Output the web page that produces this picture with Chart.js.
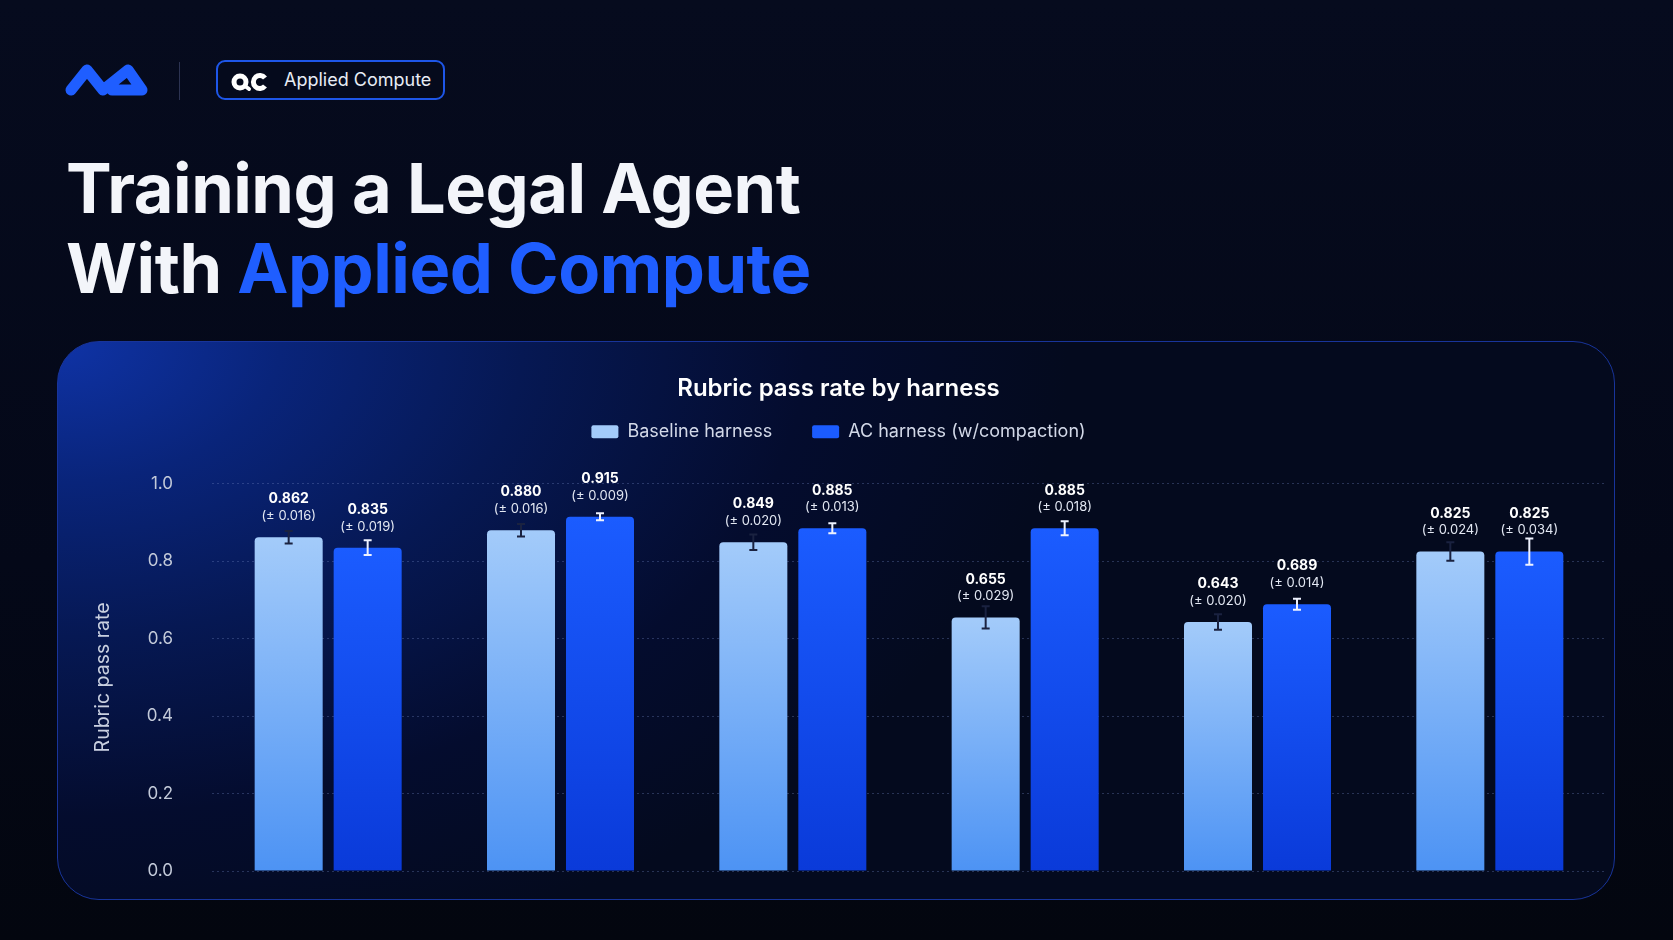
<!DOCTYPE html>
<html>
<head>
<meta charset="utf-8">
<title>Rubric pass rate by harness</title>
<script src="https://cdn.jsdelivr.net/npm/chart.js@4.4.1/dist/chart.umd.min.js"></script>
<style>
  html, body { margin: 0; padding: 0; }
  body {
    width: 1673px; height: 940px; overflow: hidden; position: relative;
    background: linear-gradient(180deg, #060b1e 0%, #040818 60%, #03060f 100%);
    font-family: Inter, "Noto Sans", sans-serif;
  }
  .logo { position: absolute; left: 0; top: 0; }
  .divider { position: absolute; left: 179px; top: 62px; width: 1px; height: 38px; background: #2c3352; }
  .pill {
    position: absolute; left: 216px; top: 60px; width: 229px; height: 40px; box-sizing: border-box;
    border: 2px solid #1e56e8; border-radius: 9px; background: #050a1c;
  }
  .pill svg { position: absolute; left: 13px; top: 10px; }
  .pill span {
    position: absolute; left: 66px; top: 8px; font-size: 18px; line-height: 20px; color: #e8ecf5;
  }
  .headline {
    position: absolute; left: 66px; top: 149px; margin: 0;
    font-size: 68.5px; line-height: 80px; font-weight: 700; color: #f3f5fa; letter-spacing: -0.5px;
  }
  .headline .blue { color: #1f5eff; }
  .card {
    position: absolute; left: 57px; top: 341px; width: 1558px; height: 559px; box-sizing: border-box;
    border: 1.5px solid #18349a; border-radius: 42px; overflow: hidden;
    background:
      radial-gradient(ellipse 65% 115% at 0% 0%, #0f33a6 0%, #09247a 22%, #061853 46%, #040c2e 74%, rgba(4,10,30,0) 100%),
      #040a1e;
  }
  .chart-box { position: absolute; left: -1.5px; top: -1.5px; width: 1558px; height: 559px; }
</style>
</head>
<body>
<svg class="logo" width="160" height="110">
  <path d="M71 90 L87 70 L103 90 L128 70 L142 90 L112 90" fill="none" stroke="#1f5eff"
        stroke-width="11" stroke-linecap="round" stroke-linejoin="round"/>
</svg>
<div class="divider"></div>
<div class="pill">
  <svg width="40" height="20">
    <circle cx="9" cy="10" r="6" fill="none" stroke="#ffffff" stroke-width="5"/>
    <path d="M14 14 L18 17" stroke="#ffffff" stroke-width="4" stroke-linecap="round"/>
    <path d="M34 6 A6.5 6.5 0 1 0 34 14" fill="none" stroke="#ffffff" stroke-width="5"/>
  </svg>
  <span>Applied Compute</span>
</div>
<h1 class="headline">Training a Legal Agent<br>With <span class="blue">Applied Compute</span></h1>
<div class="card">
  <div class="chart-box"><canvas id="chart"></canvas></div>
</div>
<script>
// data
const categories = ['1', '2', '3', '4', '5', '6'];
const seriesNames = ['Baseline harness', 'AC harness (w/compaction)'];
const baselineValues = [0.862, 0.880, 0.849, 0.655, 0.643, 0.825];
const baselineErrors = [0.016, 0.016, 0.020, 0.029, 0.020, 0.024];
const acValues = [0.835, 0.915, 0.885, 0.885, 0.689, 0.825];
const acErrors = [0.019, 0.009, 0.013, 0.018, 0.014, 0.034];
const yTickValues = [0, 0.2, 0.4, 0.6, 0.8, 1.0];

Chart.defaults.font.family = 'Inter, "Noto Sans", sans-serif';

// vertical gradient per bar, solid colour for the legend box
function barGradient(top, bottom, legendColor) {
  return function (ctx) {
    const chart = ctx.chart;
    if (ctx.type !== 'data' || !chart.chartArea) return legendColor;
    const y = chart.scales.y;
    const yTop = y.getPixelForValue(ctx.raw);
    const yBot = y.getPixelForValue(0);
    const g = chart.ctx.createLinearGradient(0, yTop, 0, yBot);
    g.addColorStop(0, top);
    g.addColorStop(1, bottom);
    return g;
  };
}

// error bars + value labels above each bar
const errorBarsAndLabels = {
  id: 'errorBarsAndLabels',
  afterDatasetsDraw(chart) {
    const c = chart.ctx;
    const y = chart.scales.y;
    chart.data.datasets.forEach((ds, di) => {
      chart.getDatasetMeta(di).data.forEach((bar, i) => {
        const v = ds.data[i];
        const e = ds.errors[i];
        const hi = y.getPixelForValue(v + e);
        const lo = y.getPixelForValue(v - e);
        c.save();
        c.strokeStyle = ds.errorColor;
        c.lineWidth = 2;
        c.beginPath();
        c.moveTo(bar.x, hi); c.lineTo(bar.x, lo);
        c.moveTo(bar.x - 4, hi); c.lineTo(bar.x + 4, hi);
        c.moveTo(bar.x - 4, lo); c.lineTo(bar.x + 4, lo);
        c.stroke();
        c.textAlign = 'center';
        c.textBaseline = 'middle';
        c.fillStyle = '#ffffff';
        c.font = '700 14px Inter';
        c.fillText(v.toFixed(3), bar.x, bar.y - 38);
        c.fillStyle = '#e3e8f3';
        c.font = '400 13px Inter';
        c.fillText('(\u00b1 ' + e.toFixed(3) + ')', bar.x, bar.y - 21);
        c.restore();
      });
    });
  }
};

// more room under the legend
const legendSpacing = {
  id: 'legendSpacing',
  beforeInit(chart) {
    const fit = chart.legend.fit;
    chart.legend.fit = function () {
      fit.call(this);
      this.height += 33;
    };
  }
};

new Chart(document.getElementById('chart'), {
  type: 'bar',
  data: {
    labels: categories,
    datasets: [
      {
        label: seriesNames[0],
        data: baselineValues,
        errors: baselineErrors,
        errorColor: '#1a2240',
        backgroundColor: barGradient('#a3cbfa', '#4d93f4', '#8fbff8'),
        borderWidth: 0,
        borderRadius: { topLeft: 4, topRight: 4 },
        borderSkipped: false,
        categoryPercentage: 0.68,
        barPercentage: 0.861
      },
      {
        label: seriesNames[1],
        data: acValues,
        errors: acErrors,
        errorColor: '#eef2ff',
        backgroundColor: barGradient('#1b5cff', '#0a3ad9', '#1a55f2'),
        borderWidth: 0,
        borderRadius: { topLeft: 4, topRight: 4 },
        borderSkipped: false,
        categoryPercentage: 0.68,
        barPercentage: 0.861
      }
    ]
  },
  options: {
    responsive: true,
    maintainAspectRatio: false,
    animation: false,
    layout: { padding: { left: 14, right: 9, top: 0, bottom: 29 } },
    plugins: {
      title: {
        display: true,
        text: 'Rubric pass rate by harness',
        color: '#ffffff',
        font: { size: 24, weight: '600' },
        padding: { top: 33, bottom: -20 }
      },
      legend: {
        display: true,
        labels: {
          color: '#d3d9e8',
          font: { size: 18 },
          boxWidth: 27,
          boxHeight: 13,
          padding: 40,
          useBorderRadius: true,
          borderRadius: 2
        }
      },
      tooltip: { enabled: false }
    },
    scales: {
      x: {
        display: false,
        grid: { display: false }
      },
      y: {
        min: 0,
        max: 1,
        afterBuildTicks(scale) {
          scale.ticks = yTickValues.map(v => ({ value: v }));
        },
        afterFit(scale) {
          scale.width = 141;
          // tick padding should not push the plot up from the bottom
          scale.paddingBottom = 0;
        },
        ticks: {
          color: '#c3cad9',
          font: { size: 17 },
          padding: 39,
          callback: v => v.toFixed(1)
        },
        grid: {
          color: 'rgba(110, 130, 190, 0.35)',
          lineWidth: 1,
          drawTicks: false
        },
        border: { display: false, dash: [2, 3] },
        title: {
          display: true,
          text: 'Rubric pass rate',
          color: '#c9d0e0',
          font: { size: 19.5 },
          padding: { top: 20, bottom: 4 }
        }
      }
    }
  },
  plugins: [errorBarsAndLabels, legendSpacing]
});
</script>
</body>
</html>
